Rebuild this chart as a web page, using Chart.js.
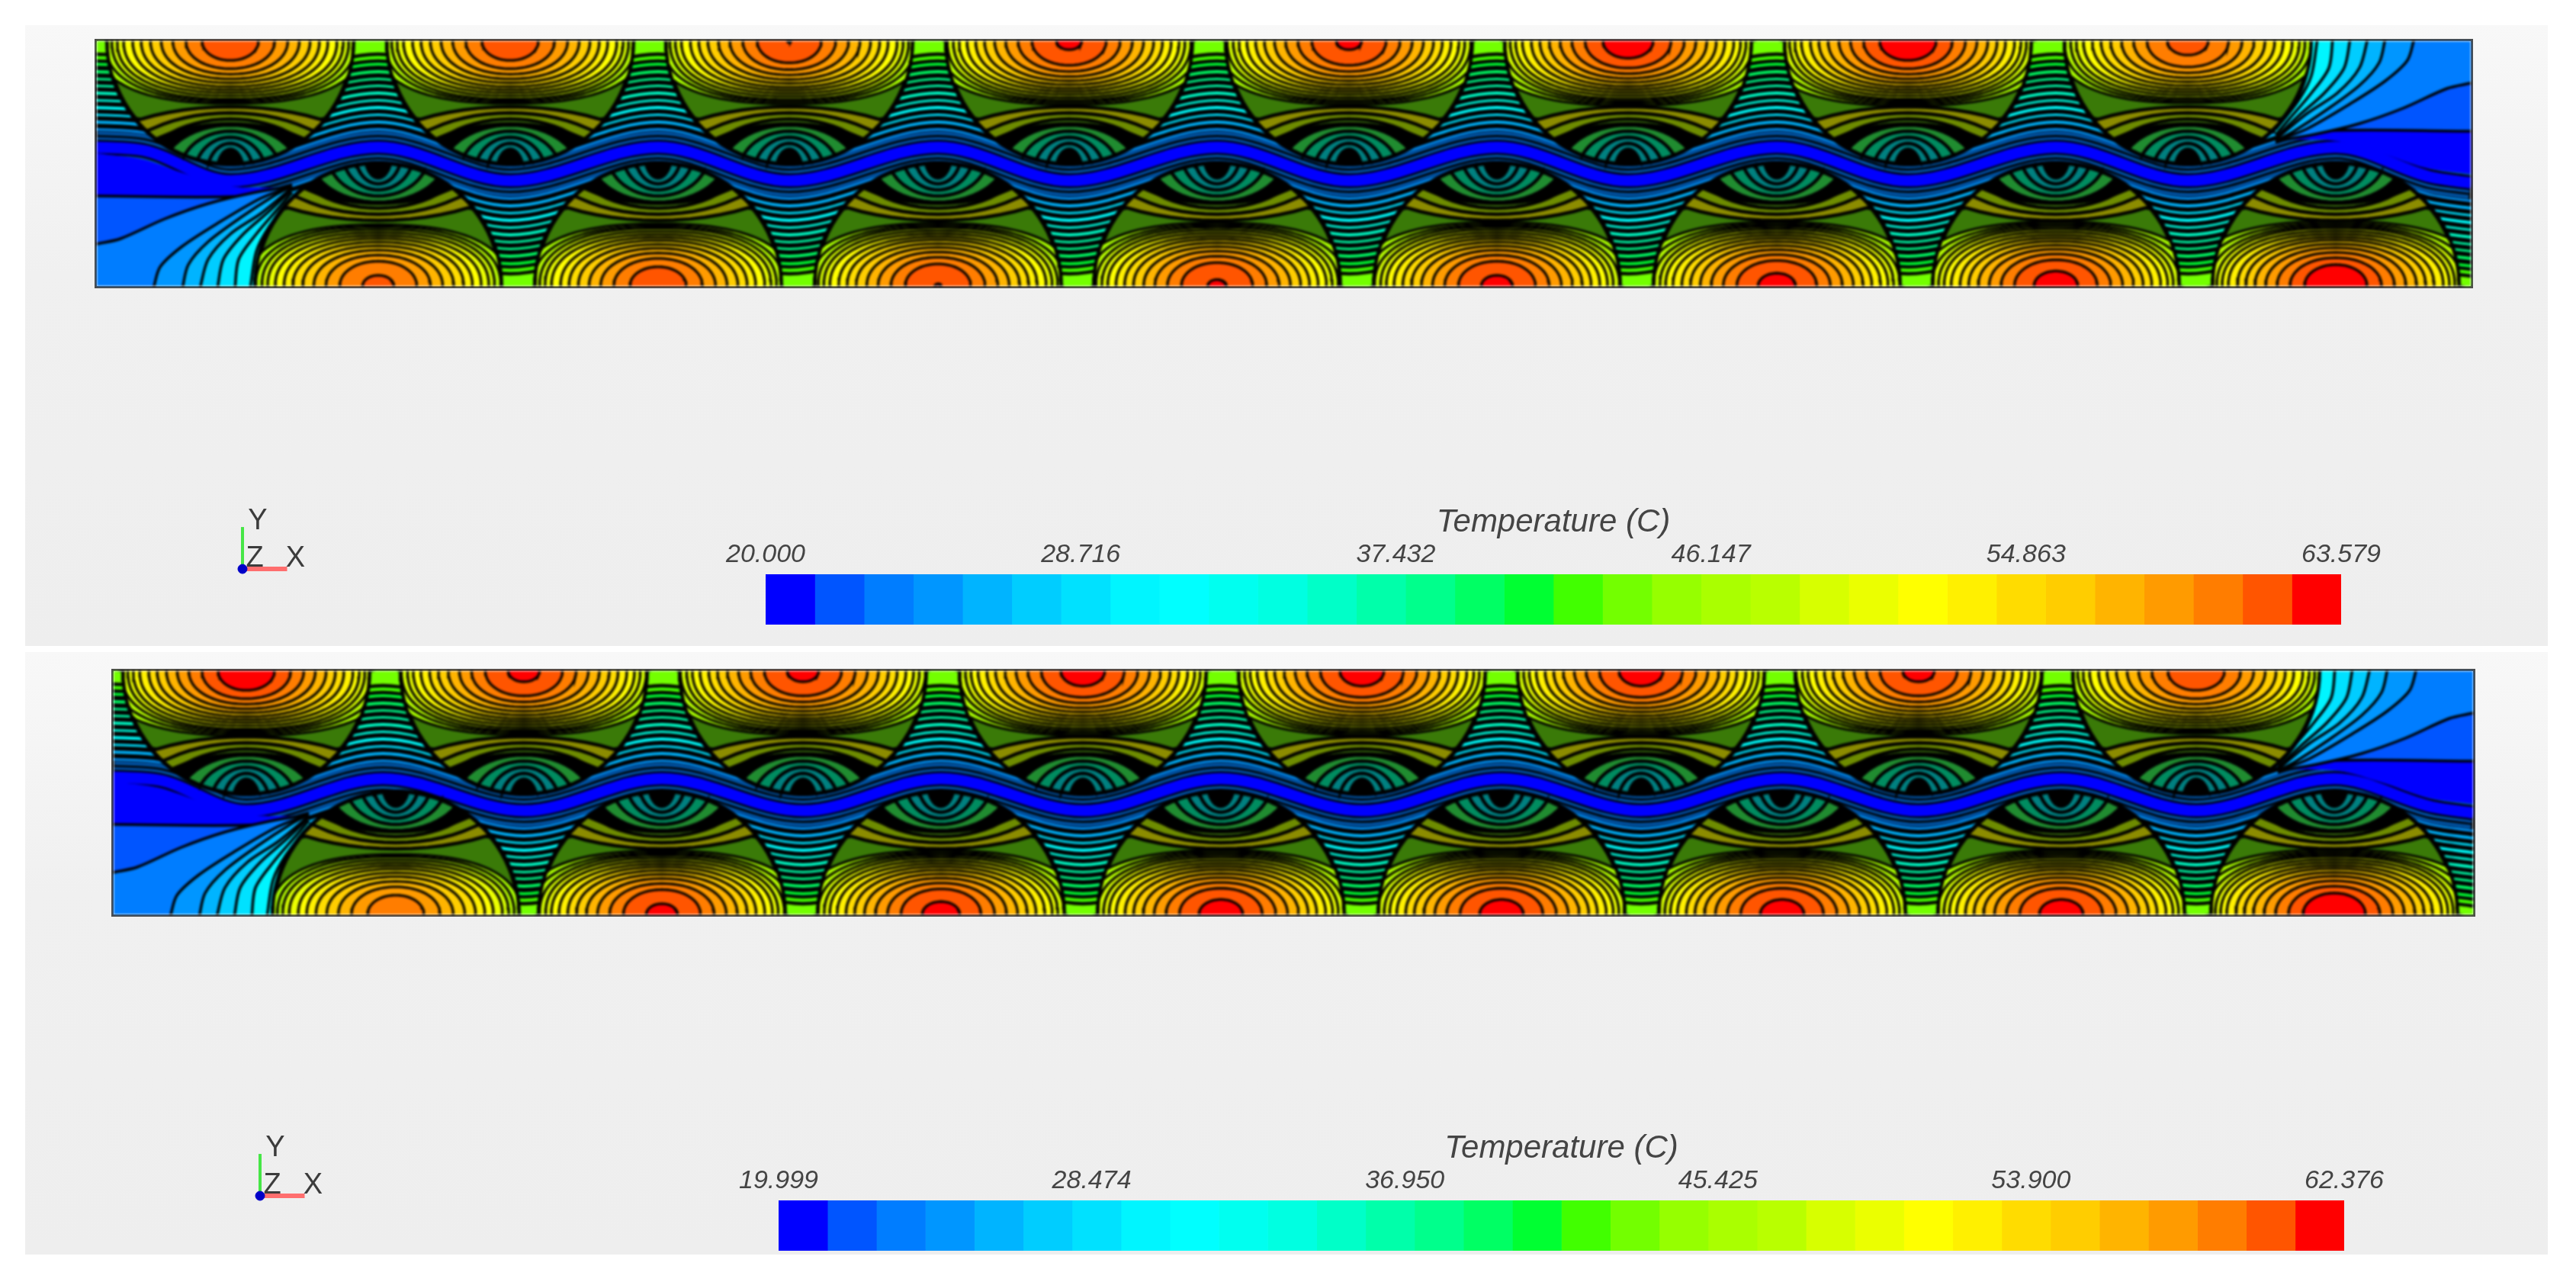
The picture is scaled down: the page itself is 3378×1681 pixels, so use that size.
<!DOCTYPE html>
<html><head><meta charset="utf-8">
<script src="https://cdn.jsdelivr.net/npm/chart.js@4"></script>
<style>
html,body{margin:0;padding:0;background:#fff;width:3378px;height:1681px;overflow:hidden}
.panel{position:absolute;left:33px;width:3308px;background:linear-gradient(#f8f8f8,#f0f0f0 40%,#eeeeee)}
.box{position:absolute}
.box canvas{display:block}
.field canvas{filter:blur(1.5px)}
.field{outline:3px solid #4a4a4a}
.soft canvas{filter:blur(.6px)}
</style></head><body>
<div class="panel" style="top:33px;height:814px"></div>
<div class="panel" style="top:855px;height:790px"></div>
<div class="box field" id="f1" style="left:127px;top:54px;width:3113px;height:321px"><canvas id="c1"></canvas></div>
<div class="box field" id="f2" style="left:149px;top:880px;width:3094px;height:319px"><canvas id="c2"></canvas></div>
<div class="box soft" style="left:850px;top:660px;width:2370px;height:159px"><canvas id="b1"></canvas></div>
<div class="box soft" style="left:867px;top:1481px;width:2357px;height:159px"><canvas id="b2"></canvas></div>
<div class="box soft" style="left:293px;top:650px;width:140px;height:110px"><canvas id="t1"></canvas></div>
<div class="box soft" style="left:316px;top:1472px;width:140px;height:110px"><canvas id="t2"></canvas></div>
<script>
// colour bar levels
const levelColors=['#0000ff','#0055ff','#007dff','#0096ff','#00b4ff','#00cdff','#00e1ff','#00f5ff','#00ffff','#00fff0','#00ffe1','#00ffc8','#00ffaa','#00ff8c','#00ff64','#00ff32','#41ff00','#73ff00','#96ff00','#aaff00','#b9ff00','#d7ff00','#ebff00','#ffff00','#fff000','#ffdc00','#ffcd00','#ffb400','#ff9b00','#ff7d00','#ff5500','#ff0000'];
const legendTitle='Temperature (C)';
const ticks1=[20.000,28.716,37.432,46.147,54.863,63.579];
const ticks2=[19.999,28.474,36.950,45.425,53.900,62.376];
// heater centres along the wall and their peak contour level
const topCentres1=[175,542,908,1275,1642,2008,2375,2742];
const botCentres1=[369,736,1103,1469,1836,2203,2569,2936];
const topPeaks1=[30.9,30.9,31.05,31.4,31.4,31.8,31.9,30.65];
const botPeaks1=[30.5,30.9,31.1,31.3,31.5,31.6,31.7,32.0];
const topCentres2=[174,538,904,1271,1637,2003,2367,2731];
const botCentres2=[370,719,1085,1452,1820,2188,2554,2912];
const topPeaks2=[31.9,31.5,31.5,31.7,31.7,31.7,31.5,30.9];
const botPeaks2=[29.9,31.5,31.6,31.7,31.7,31.7,31.7,32.0];
// wavy cold channel centre line
const channelX1=[0,60,175,369,542,736,908,1103,1275,1469,1642,1836,2008,2203,2375,2569,2742,2936,3060,3113];
const channelY1=[139,143,183,139,183,139,183,139,183,139,183,139,183,139,183,139,183,139,178,186];
const channelX2=[0,60,174,353,538,719,904,1085,1271,1452,1637,1820,2003,2188,2367,2554,2731,2912,3040,3094];
const channelY2=[139,143,183,141,183,141,183,141,183,141,183,141,183,141,183,141,183,141,178,186];
// contour depth table: half width and depth of hot rings, by levels below the peak
const ringHalfWidths=[0,41,60,77,92,106,118,129,141,149,156,165,178,195,215];
const ringDepths=[0,28,37,44,50,55,60,64,68,72,76,79,82,85,88];
// cold rings around the channel side of each heater: colour as it appears, top of the arc, half width
const coldColors=['#8c8c00','#6e8c00','#4a8c10','#208c30','#008c60','#008080','#007f80'];
const coldApex=[86,94,102,110,118,126,134];
const coldWidth=[200,150,115,90,66,46,30];
const darkApex=106, darkWidth=135, coldCore=141, coldCoreWidth=18;
const wedgeColor='#3a7a08';
// bands between heaters: distance from channel centre and level
const gapOffsets=[19,28,38,47,57,66,76,85,94,104,113,122];
const gapLevels=[3,4,6,8,10,11,12,13,14,15,16,17];
// inlet fan contour lines (the outlet uses the same lines turned round)
const fanBase=[[0,147],[60,155],[120,175],[175,190],[230,192],[256,190]];
const fanLines=[
 {level:1,pts:[[0,203],[198,203],[256,188]]},
 {level:2,pts:[[0,266],[31,259],[89,233],[146,213],[204,199],[256,190]]},
 {level:3,pts:[[74,325],[83,296],[112,269],[158,239],[215,206],[256,190]]},
 {level:4,pts:[[112,325],[120,293],[146,263],[192,229],[232,203],[256,190]]},
 {level:5,pts:[[135,325],[146,286],[175,253],[215,226],[256,192]]},
 {level:6,pts:[[158,325],[166,286],[192,253],[226,223],[256,194]]},
 {level:7,pts:[[181,325],[186,286],[209,253],[238,219],[256,198]]},
 {level:8,pts:[[201,325],[209,276],[226,243],[256,205]]}];
const heaterRadius=161;
// triad
const triadAxisY=[[20,8],[20,71]];
const triadAxisX=[[20,8],[85,8]];
const triadOrigin=[[20,8]];
const triadLabels=[{t:'Y',x:42,y:80},{t:'Z',x:38,y:24},{t:'X',x:97,y:23}];

function lookup(tb,d){const k=Math.min(Math.floor(d),tb.length-2);return tb[k]+(tb[k+1]-tb[k])*(d-k);}
function fieldChart(id,W,H,topC,botC,topP,botP,chX,chY){
  const ds=[];
  const series=(off)=>chX.map((x,i)=>({x,y:chY[i]+off}));
  const lineDs=(data,o)=>Object.assign({data,borderColor:'#000',borderWidth:4,pointRadius:0,fill:false,cubicInterpolationMode:'monotone',backgroundColor:'transparent'},o);
  ds.push(lineDs([{x:0,y:-5},{x:W,y:-5}],{fill:'start',backgroundColor:'#000',borderWidth:0}));
  // gap bands
  gapOffsets.forEach((o,k)=>{const c=levelColors[gapLevels[k]];
    ds.push(lineDs(series(-o),{fill:'end',backgroundColor:c,borderWidth:k<10?6:4.5}));});
  gapOffsets.forEach((o,k)=>{const c=levelColors[gapLevels[k]];
    ds.push(lineDs(series(o),{fill:'start',backgroundColor:c,borderWidth:k<10?6:4.5}));});
  // channel
  [[42,'#00509f'],[32,'#000'],[26,'#005abe'],[20,'#000'],[15,'#0000ff']].forEach(([w,c])=>ds.push(lineDs(series(0),{borderColor:c,borderWidth:w})));
  // fan
  const fan=(pts,o,mirror)=>{
    let d=pts.map(p=>mirror?{x:W-p[0],y:H-p[1]+(321-H)}:{x:p[0],y:p[1]-(321-H)});
    if(mirror)d=d.reverse();
    ds.push(lineDs(d,Object.assign({fill:mirror?'end':'start',cubicInterpolationMode:'default',tension:.3,borderWidth:3.5},o)));
  };
  [false,true].forEach(m=>{
    fan(fanBase,{backgroundColor:levelColors[0],borderWidth:0},m);
    fanLines.forEach(l=>fan(l.pts,{backgroundColor:levelColors[l.level]},m));
  });
  // heaters
  const poly=(pts,color,bw)=>ds.push(lineDs(pts,{fill:'shape',backgroundColor:color,borderWidth:bw,cubicInterpolationMode:'default',tension:0}));
  const heater=(cx,wall,s,peak)=>{
    const R=heaterRadius;
    const proj=(x,y)=>{const dx=x-cx,dy=y-wall,r=Math.hypot(dx,dy);return r>R?{x:cx+dx*R/r,y:wall+dy*R/r}:{x,y};};
    const sp=(v,n)=>Math.sign(v)*Math.pow(Math.abs(v),2/n);
    const half=(a,b,n)=>{const p=[{x:cx+a,y:wall-s*6}];for(let i=0;i<=48;i++){const t=Math.PI*i/48;p.push(proj(cx+a*sp(Math.cos(t),n),wall+s*b*sp(Math.sin(t),n)));}p.push({x:cx-a,y:wall-s*6});return p;};
    poly(half(R,R,2),wedgeColor,6);
    const cy=wall+s*172;
    const ell=(apex,a)=>{const b=172-apex,p=[];for(let i=0;i<=60;i++){const t=2*Math.PI*i/60;p.push(proj(cx+a*Math.cos(t),cy+b*Math.sin(t)));}return p;};
    coldColors.forEach((col,k)=>{
      if(coldApex[k]===110) poly(ell(darkApex,darkWidth),'#000',0);
      poly(ell(coldApex[k],coldWidth[k]),col,4.5);
    });
    poly(ell(coldCore,coldCoreWidth),'#000',3);
    for(let i=19;i<peak;i++){const d=peak-i;poly(half(lookup(ringHalfWidths,d),lookup(ringDepths,d),2+Math.min(.4,.04*d)),levelColors[i],3.3);}
  };
  topC.forEach((c,i)=>heater(c,0,1,topP[i]));
  botC.forEach((c,i)=>heater(c,H,-1,botP[i]));
  ds.reverse();
  return new Chart(document.getElementById(id),{type:'line',data:{datasets:ds},options:{
    responsive:false,animation:false,events:[],layout:{padding:0},
    plugins:{legend:{display:false},tooltip:{enabled:false}},
    scales:{x:{type:'linear',display:false,min:0,max:W},y:{type:'linear',display:false,reverse:true,min:0,max:H}}
  }});
}
function sizeCanvas(id){const c=document.getElementById(id),p=c.parentElement;c.width=p.clientWidth;c.height=p.clientHeight;c.style.width=p.clientWidth+'px';c.style.height=p.clientHeight+'px';}
function legendChart(id,ticks,padL,padR){
  const lo=ticks[0],hi=ticks[ticks.length-1],n=levelColors.length;
  const datasets=levelColors.map((c,i)=>({data:[[lo+(hi-lo)*i/n,lo+(hi-lo)*(i+1)/n]],backgroundColor:c,borderWidth:0,grouped:false,barPercentage:1,categoryPercentage:1}));
  return new Chart(document.getElementById(id),{type:'bar',data:{labels:[''],datasets},options:{
    indexAxis:'y',responsive:false,animation:false,events:[],layout:{padding:{left:padL,right:padR,top:0,bottom:0}},
    plugins:{legend:{display:false},tooltip:{enabled:false}},
    scales:{y:{display:false},x:{type:'linear',position:'top',min:lo,max:hi,
      afterBuildTicks:s=>{s.ticks=ticks.map(v=>({value:v}));},
      afterFit:s=>{s.height=93;},
      grid:{display:false,drawTicks:false},border:{display:false},
      title:{display:true,text:legendTitle,color:'#444',font:{family:'Liberation Sans',style:'italic',size:42},padding:{top:0,bottom:2}},
      ticks:{autoSkip:false,maxRotation:0,padding:5,color:'#444',font:{family:'Liberation Sans',style:'italic',size:34},callback:v=>v.toFixed(3)}}}
  }});
}
const triadText={id:'triadText',afterDatasetsDraw(ch){const c=ch.ctx;c.save();c.font='38px "Liberation Sans"';c.fillStyle='#3c3c3c';c.textAlign='center';c.textBaseline='middle';
  triadLabels.forEach(l=>c.fillText(l.t,ch.scales.x.getPixelForValue(l.x),ch.scales.y.getPixelForValue(l.y)));c.restore();}};
function triadChart(id){
  const toXY=a=>a.map(p=>({x:p[0],y:p[1]}));
  return new Chart(document.getElementById(id),{type:'line',plugins:[triadText],data:{datasets:[
    {data:toXY(triadOrigin),borderColor:'#0000c8',backgroundColor:'#0000c8',pointRadius:6,showLine:false},
    {data:toXY(triadAxisY),borderColor:'#46e646',borderWidth:4,pointRadius:0},
    {data:toXY(triadAxisX),borderColor:'#ff6e6e',borderWidth:6,pointRadius:0}
  ]},options:{responsive:false,animation:false,events:[],layout:{padding:0},plugins:{legend:{display:false},tooltip:{enabled:false}},
    scales:{x:{type:'linear',display:false,min:0,max:140},y:{type:'linear',display:false,min:0,max:110}}}});
}
['c1','c2','b1','b2','t1','t2'].forEach(sizeCanvas);
fieldChart('c1',3113,321,topCentres1,botCentres1,topPeaks1,botPeaks1,channelX1,channelY1);
fieldChart('c2',3094,319,topCentres2,botCentres2,topPeaks2,botPeaks2,channelX2,channelY2);
legendChart('b1',ticks1,154,150);
legendChart('b2',ticks2,154,150);
triadChart('t1');
triadChart('t2');
</script>
</body></html>
